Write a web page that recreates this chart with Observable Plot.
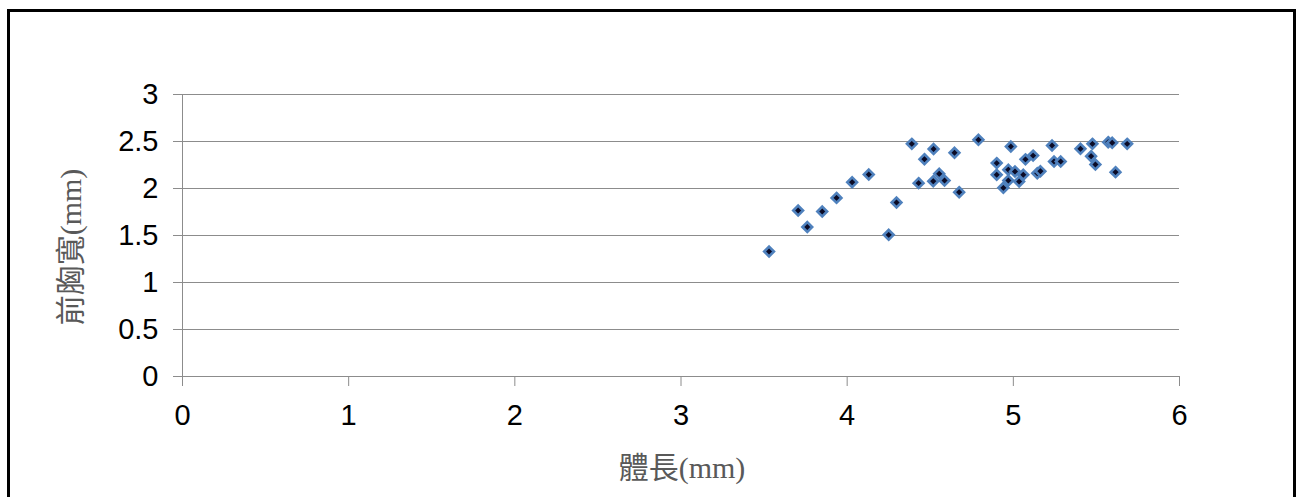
<!DOCTYPE html>
<html><head><meta charset="utf-8">
<script src="https://cdn.jsdelivr.net/npm/d3@7"></script>
<script src="https://cdn.jsdelivr.net/npm/@observablehq/plot@0.6"></script>
<style>
body{margin:0;background:#fff;}
#wrap{position:relative;width:1296px;height:497px;overflow:hidden;background:#fff;}
#chart{position:absolute;left:0;top:0;}
#frame{position:absolute;left:7px;top:9px;width:1289px;height:520px;border:3px solid #000;box-sizing:border-box;pointer-events:none;}
.title{position:absolute;font-family:"Liberation Serif","Noto Sans CJK TC",serif;font-size:30px;color:#595959;white-space:nowrap;}
#xtitle{left:682px;top:465px;transform:translate(-50%,-50%);}
#ytitle{left:68px;top:247px;transform:translate(-50%,-50%) rotate(-90deg);}
</style></head>
<body>
<div id="wrap">
  <div id="chart"></div>
  <div id="frame"></div>
  <div class="title" id="xtitle">體長(mm)</div>
  <div class="title" id="ytitle">前胸寬(mm)</div>
</div>
<script>
const bodyLength = [3.53,3.705,3.76,3.85,3.936,4.03,4.13,4.25,4.297,4.389,4.43,4.465,4.52,4.518,4.554,4.586,4.646,4.674,4.79,
  4.985,4.90,4.90,4.97,4.94,4.97,5.01,5.035,5.06,5.073,5.119,5.144,5.163,5.233,5.245,5.285,5.404,5.476,5.468,5.494,5.571,5.595,5.615,5.685];
const pronotumWidth = [1.33,1.766,1.59,1.755,1.90,2.067,2.149,1.507,1.851,2.475,2.057,2.312,2.42,2.078,2.156,2.085,2.38,1.961,2.518,
  2.447,2.27,2.146,2.20,2.007,2.085,2.18,2.074,2.146,2.31,2.35,2.163,2.184,2.457,2.287,2.287,2.422,2.475,2.344,2.255,2.493,2.486,2.174,2.475];
const xTicks = [0,1,2,3,4,5,6];
const yTicks = [0,0.5,1,1.5,2,2.5,3];

const data = bodyLength.map((x,i)=>({x, y: pronotumWidth[i]}));
const grid = "#8c8c8c";
const chart = Plot.plot({
  width: 1296, height: 497,
  marginLeft: 182, marginRight: 117, marginTop: 94, marginBottom: 121,
  style: {fontFamily: "'Liberation Sans', Arial, sans-serif", fontSize: "29px", background: "transparent", color: "#000"},
  x: {domain: [0,6], label: null},
  y: {domain: [0,3], label: null},
  marks: [
    Plot.ruleY(yTicks, {stroke: grid, strokeWidth: 1}),
    Plot.ruleX([0], {y1: 0, y2: 3, stroke: grid, strokeWidth: 1}),
    Plot.axisY({ticks: yTicks, tickSize: 9, tickPadding: 15, stroke: grid, fill: "#000", tickFormat: d => String(d), fontSize: 29, label: null}),
    Plot.axisX({ticks: xTicks, tickSize: 10, tickPadding: 18, stroke: grid, fill: "#000", tickFormat: d => String(d), fontSize: 29, label: null}),
    Plot.dot(data, {x: "x", y: "y", symbol: "diamond2", r: 4.4, fill: "#0b0b26", stroke: "#4f81bd", strokeWidth: 2.6})
  ]
});
document.getElementById("chart").appendChild(chart);
</script>
</body></html>
